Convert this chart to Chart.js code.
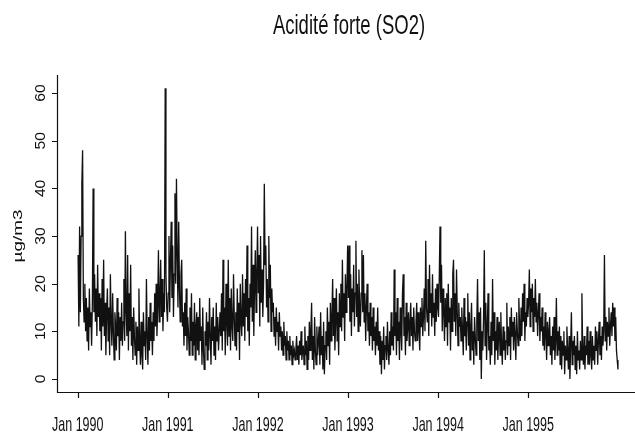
<!DOCTYPE html>
<html>
<head>
<meta charset="utf-8">
<title>Acidité forte (SO2)</title>
<script src="https://cdn.jsdelivr.net/npm/chart.js@4.4.1/dist/chart.umd.min.js"></script>
<style>
  html, body { margin: 0; padding: 0; background: #fff; }
  canvas { display: block; }
</style>
</head>
<body>
<canvas id="myChart" width="635" height="433"></canvas>
<script>
//================ Data (µg/m3, about one reading every 3 days) ================//
var years = [1990, 1991, 1992, 1993, 1994, 1995];
var xTickLabels = ["Jan 1990", "Jan 1991", "Jan 1992", "Jan 1993", "Jan 1994", "Jan 1995"];
var yTickValues = [0, 10, 20, 30, 40, 50, 60];

var so2_1990 = [
  26, 11, 32, 14, 30, 41, 48, 17, 12, 20,
  10, 17, 8, 15, 6, 19, 11, 14, 7, 16,
  40, 14, 22, 12, 19, 9, 24, 13, 18, 10,
  17, 6, 21, 11, 25, 9, 16, 5, 14, 19,
  8, 15, 5, 22, 12, 7, 18, 10, 4, 14,
  11, 6, 17, 9, 14, 4, 13, 8, 16, 7,
  12, 21, 8, 31, 14, 9, 26, 6, 18, 10,
  24, 7, 13, 4, 15, 9, 5, 12, 3, 11,
  6, 19, 8, 3, 12, 5, 2, 14, 7, 10,
  4, 21, 9, 3, 13, 6, 16, 8, 12, 5,
  14, 8, 18, 11, 20, 9, 15, 27, 12, 17,
  25, 13, 21, 10, 18, 14, 61, 22, 15, 12
];
var so2_1991 = [
  18, 30, 14, 25, 33, 17, 28, 13, 22, 39,
  20, 42, 26, 15, 33, 19, 12, 22, 25, 11,
  14, 7, 16, 9, 19, 6, 13, 10, 5, 15,
  8, 18, 5, 12, 7, 16, 4, 11, 14, 6,
  13, 5, 17, 8, 11, 3, 15, 6, 2, 10,
  7, 14, 4, 12, 6, 17, 9, 3, 13, 8,
  15, 5, 11, 4, 16, 8, 13, 6, 10, 14,
  9, 18, 6, 25, 10, 15, 5, 20, 12, 7,
  25, 9, 17, 6, 19, 11, 8, 22, 13, 7,
  14, 6, 19, 10, 16, 4, 20, 12, 9, 22,
  11, 18, 8, 21, 13, 28, 10, 17, 7, 20,
  15, 32, 12, 24, 9, 19, 27, 14, 22, 32
];
var so2_1992 = [
  18, 26, 11, 30, 16, 23, 13, 20, 41, 24,
  28, 15, 21, 12, 30, 17, 24, 10, 19, 14,
  16, 9, 13, 7, 15, 10, 12, 6, 14, 9,
  11, 6, 10, 5, 12, 7, 9, 4, 10, 6,
  8, 4, 9, 5, 7, 3, 8, 5, 6, 4,
  6, 9, 4, 7, 3, 8, 5, 10, 4, 6,
  7, 3, 11, 5, 8, 2, 9, 4, 12, 6,
  10, 16, 4, 9, 2, 13, 6, 3, 11, 5,
  8, 11, 3, 14, 5, 9, 2, 12, 1, 7,
  10, 4, 15, 7, 12, 3, 16, 8, 13, 21,
  9, 17, 6, 12, 19, 8, 14, 5, 18, 11,
  20, 10, 25, 13, 18, 8, 22, 14, 19, 28
];
var so2_1993 = [
  17, 28, 12, 22, 9, 19, 14, 24, 11, 18,
  29, 13, 20, 10, 23, 15, 11, 18, 27, 14,
  26, 12, 18, 8, 15, 20, 10, 14, 7, 16,
  9, 13, 6, 15, 8, 11, 5, 12, 7, 15,
  6, 10, 3, 9, 1, 8, 4, 11, 2, 7,
  9, 4, 12, 6, 3, 10, 5, 14, 7, 11,
  6, 23, 9, 14, 5, 17, 8, 12, 4, 15,
  10, 6, 18, 22, 9, 13, 5, 16, 8, 11,
  14, 7, 12, 16, 9, 13, 6, 15, 10, 8,
  12, 16, 8, 14, 10, 6, 15, 11, 17, 9,
  13, 19, 10, 29, 15, 12, 21, 9, 24, 14,
  18, 11, 22, 13, 16, 9, 19, 12, 20, 15
];
var so2_1994 = [
  13, 21, 32, 16, 24, 10, 19, 14, 8, 17,
  11, 18, 7, 20, 12, 15, 6, 17, 10, 22,
  25, 12, 18, 9, 23, 14, 7, 16, 11, 13,
  8, 15, 10, 5, 17, 9, 13, 6, 12, 18,
  7, 14, 4, 11, 16, 6, 10, 3, 13, 9,
  5, 12, 21, 8, 14, 4, 15, 0, 10, 6,
  13, 27, 7, 16, 4, 11, 18, 6, 9, 3,
  12, 5, 21, 8, 14, 3, 10, 6, 13, 4,
  9, 12, 5, 14, 7, 3, 11, 6, 10, 4,
  8, 16, 5, 11, 7, 13, 4, 15, 9, 12,
  6, 13, 9, 4, 14, 10, 7, 17, 11, 8,
  15, 9, 18, 12, 20, 8, 14, 11, 17, 13
];
var so2_1995 = [
  16, 23, 11, 19, 14, 20, 10, 17, 13, 21,
  12, 16, 9, 14, 18, 8, 13, 10, 15, 7,
  11, 6, 14, 9, 4, 12, 7, 10, 13, 5,
  9, 3, 11, 6, 13, 4, 8, 17, 5, 10,
  6, 11, 3, 9, 2, 8, 5, 10, 1, 7,
  4, 11, 6, 2, 9, 0, 7, 14, 3, 8,
  5, 9, 2, 7, 1, 10, 4, 6, 2, 8,
  4, 18, 6, 3, 9, 2, 7, 5, 11, 3,
  8, 3, 10, 5, 2, 9, 4, 7, 3, 11,
  6, 10, 3, 8, 12, 5, 9, 4, 11, 7,
  10, 26, 8, 13, 6, 12, 9, 15, 7, 11,
  14, 9, 16, 11, 15, 8, 13, 6, 4, 2
];
var series = [so2_1990, so2_1991, so2_1992, so2_1993, so2_1994, so2_1995];

// readings spread evenly through each year
var points = [];
series.forEach(function(vals, i) {
  vals.forEach(function(v, k) {
    points.push({ x: years[i] + (k + 0.5) / vals.length, y: v });
  });
});

//================ Text helper (the original type is tall and narrow) ================//
var FONT = '"Liberation Sans", Arial, Helvetica, sans-serif';
function stretchText(ctx, txt, x, y, size, sx, sy, rot, align, base) {
  ctx.save();
  ctx.translate(x, y);
  if (rot) ctx.rotate(rot);
  ctx.scale(sx, sy);
  ctx.font = size + 'px ' + FONT;
  ctx.textAlign = align;
  ctx.textBaseline = base;
  ctx.fillStyle = '#111';
  ctx.fillText(txt, 0, 0);
  ctx.restore();
}

//================ Axes drawn R style ================//
var rAxes = {
  id: 'rAxes',
  afterDraw: function(chart) {
    var ctx = chart.ctx;
    var xs = chart.scales.x, ys = chart.scales.y;
    var area = chart.chartArea;
    ctx.save();
    ctx.strokeStyle = '#111';
    ctx.lineWidth = 1.2;
    ctx.beginPath();
    ctx.moveTo(area.left + 0.5, area.top);
    ctx.lineTo(area.left + 0.5, area.bottom + 0.5);
    ctx.lineTo(area.right, area.bottom + 0.5);
    ctx.stroke();

    ctx.beginPath();
    years.forEach(function(yr) {
      var px = Math.round(xs.getPixelForValue(yr)) + 0.5;
      ctx.moveTo(px, area.bottom);
      ctx.lineTo(px, area.bottom + 6);
    });
    yTickValues.forEach(function(v) {
      var py = Math.round(ys.getPixelForValue(v)) + 0.5;
      ctx.moveTo(area.left, py);
      ctx.lineTo(area.left - 5, py);
    });
    ctx.stroke();
    ctx.restore();

    years.forEach(function(yr, i) {
      stretchText(ctx, xTickLabels[i], xs.getPixelForValue(yr), 431, 12.5, 1, 1.65, 0, 'center', 'alphabetic');
    });
    yTickValues.forEach(function(v) {
      stretchText(ctx, String(v), 45, ys.getPixelForValue(v), 14, 1.12, 1, -Math.PI / 2, 'center', 'alphabetic');
    });
    stretchText(ctx, 'µg/m3', 22, 236, 13, 1.45, 1, -Math.PI / 2, 'center', 'alphabetic');
    stretchText(ctx, 'Acidité forte (SO2)', 349, 34, 18.5, 1, 1.45, 0, 'center', 'alphabetic');
  }
};

var ctx = document.getElementById('myChart').getContext('2d');
new Chart(ctx, {
  type: 'line',
  data: {
    datasets: [{
      data: points,
      borderColor: '#111',
      borderWidth: 1.3,
      pointRadius: 0,
      tension: 0,
      fill: false
    }]
  },
  options: {
    responsive: false,
    animation: false,
    devicePixelRatio: 1,
    layout: { padding: { left: 57, top: 75, right: 0, bottom: 41 } },
    plugins: { legend: { display: false }, tooltip: { enabled: false }, title: { display: false } },
    scales: {
      x: { type: 'linear', display: false, min: 1989.77, max: 1996.185 },
      y: { type: 'linear', display: false, min: -2.73, max: 63.8 }
    }
  },
  plugins: [rAxes]
});
</script>
</body>
</html>
